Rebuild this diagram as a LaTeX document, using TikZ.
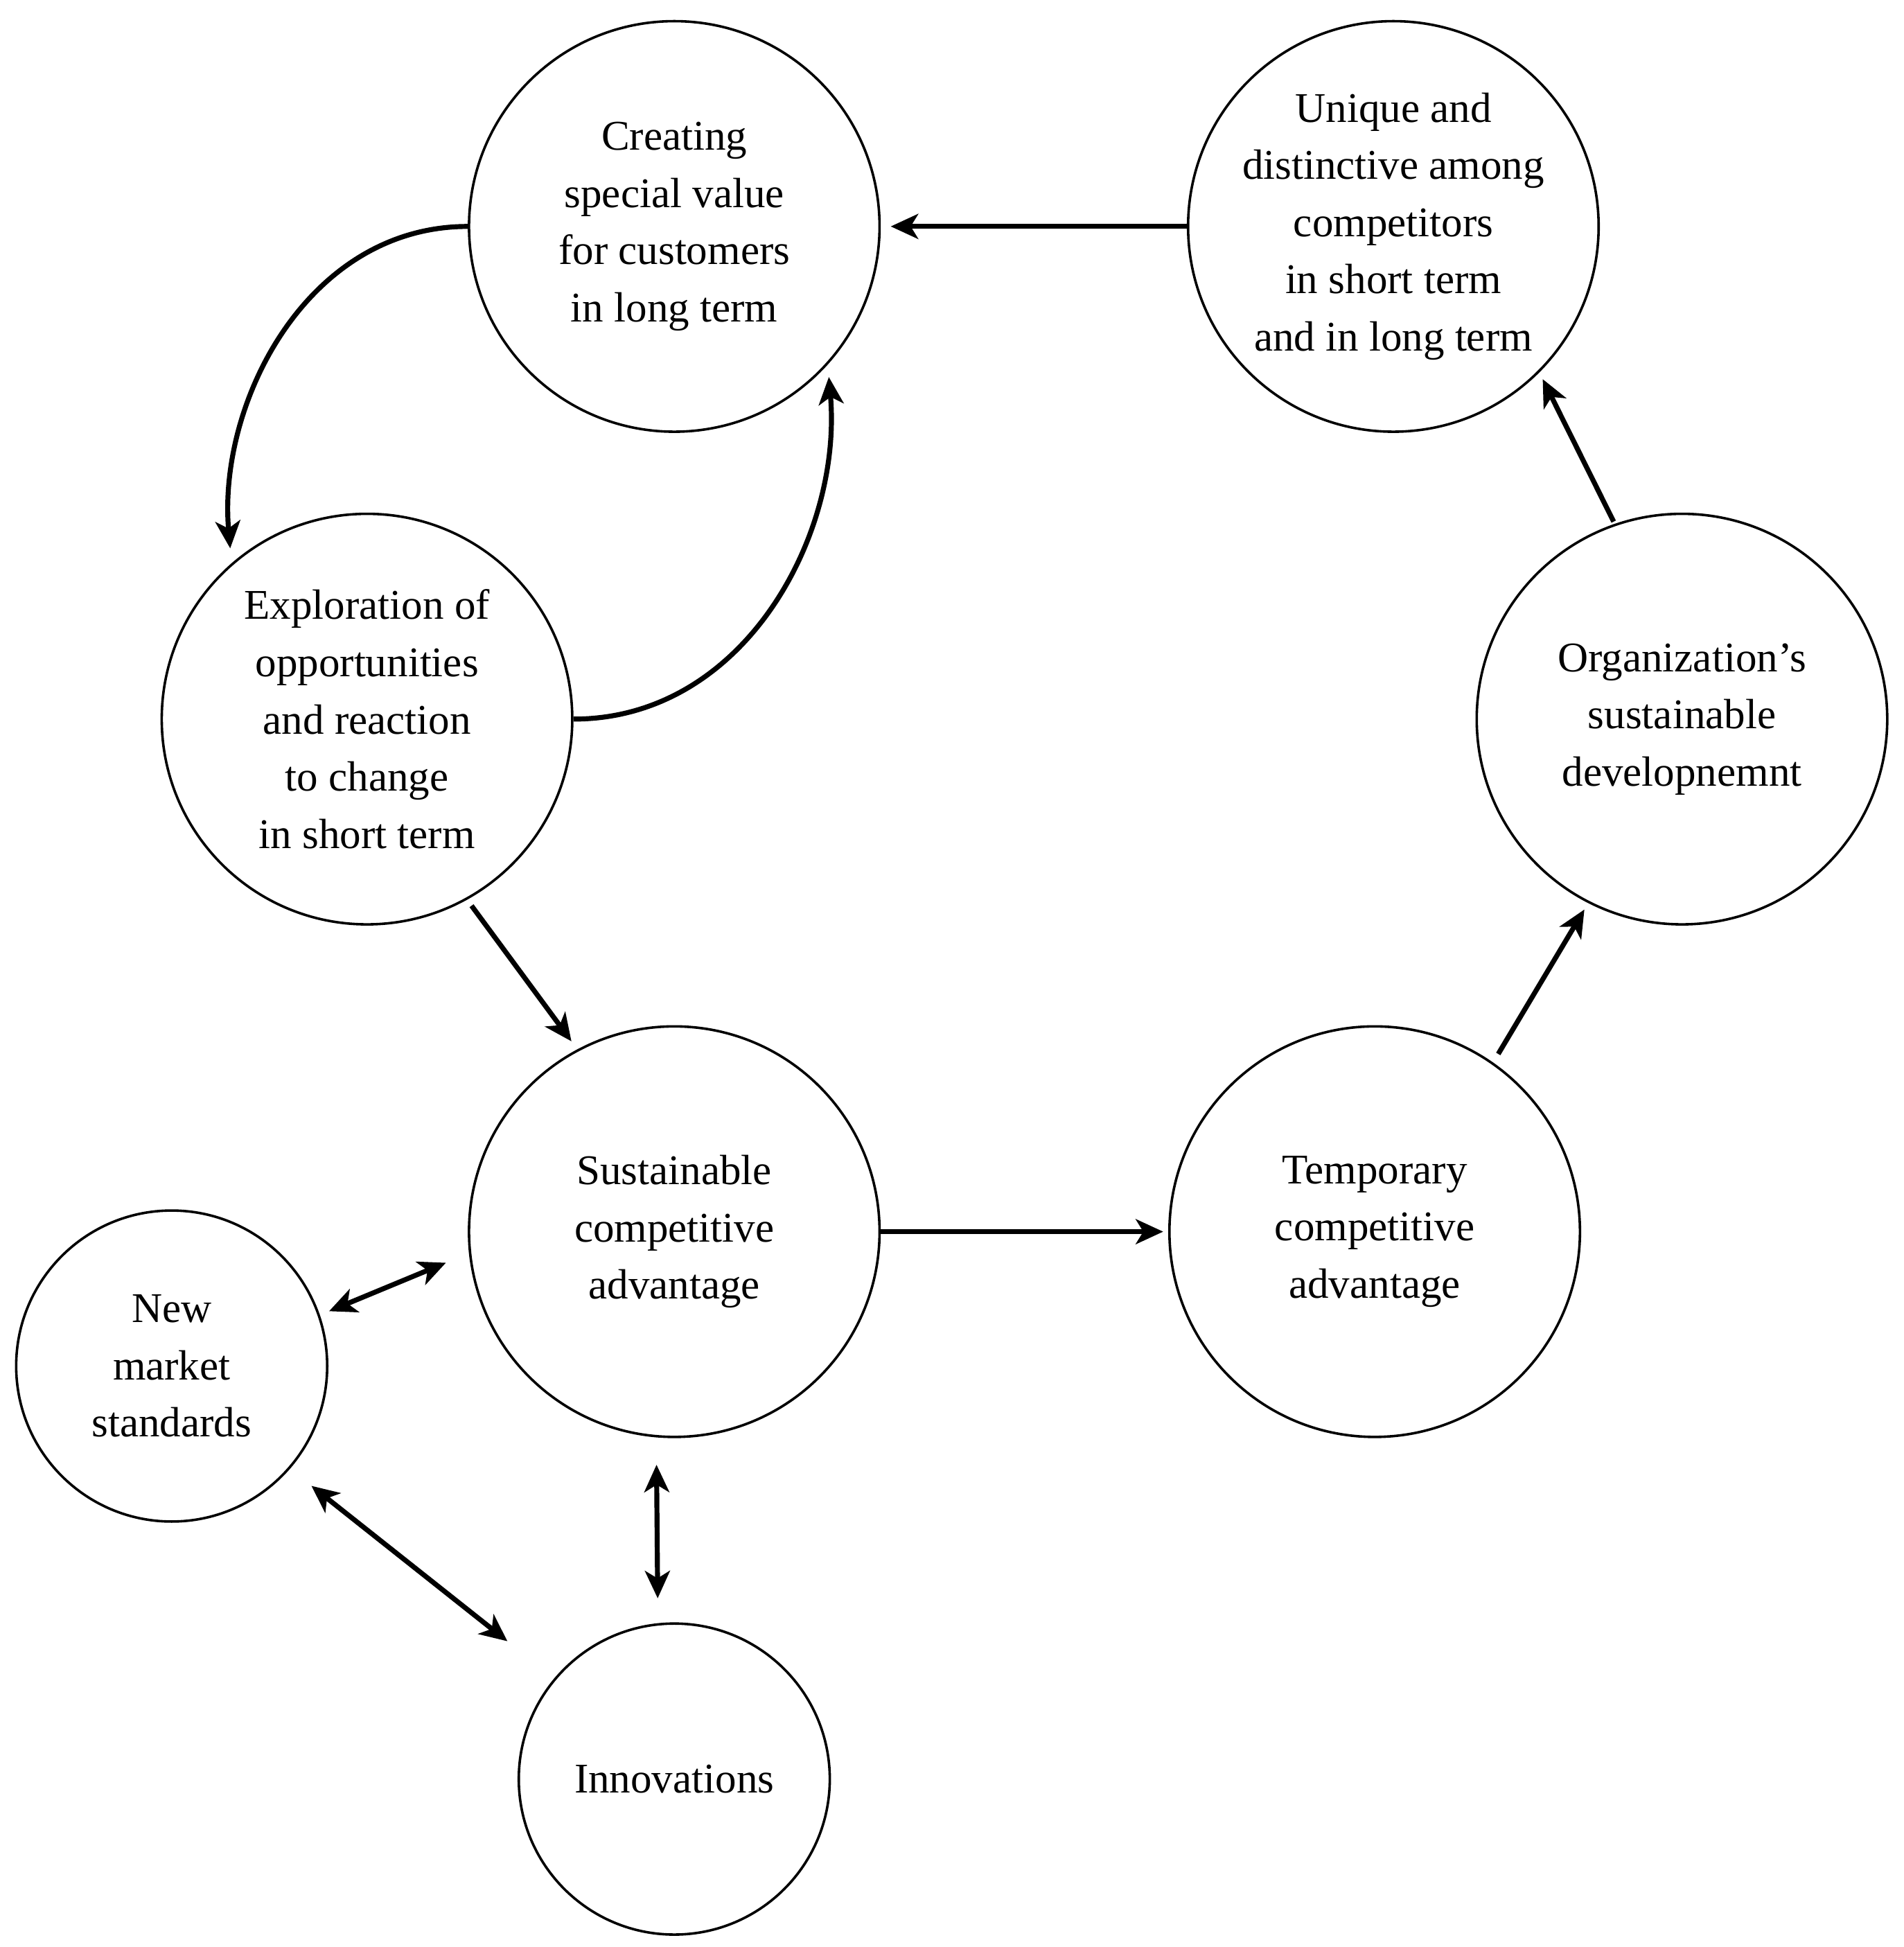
\documentclass[tikz,border=0pt]{standalone}
\usepackage{fontspec}
\setmainfont{Liberation Serif}
\usetikzlibrary{arrows.meta}
\begin{document}
\begin{tikzpicture}[x=0.5pt,y=-0.5pt,
  big/.style={circle,draw,line width=1pt,minimum size=165pt,inner sep=0pt,align=center,font=\fontsize{17}{23}\selectfont},
  small/.style={big,minimum size=125pt},
  arr/.style={line width=2pt,-{Stealth[length=11pt,width=10pt,inset=3pt]}},
  darr/.style={line width=2pt,{Stealth[length=11pt,width=10pt,inset=3pt]}-{Stealth[length=11pt,width=10pt,inset=3pt]}}]
\useasboundingbox (0,0) rectangle (1530,1565);
\node[big] (C) at (542,182) {Creating\\special value\\for customers\\in long term};
\node[big] (U) at (1120,182) {Unique and\\distinctive among\\competitors\\in short term\\and in long term};
\node[big] (E) at (295,578) {Exploration of\\opportunities\\and reaction\\to change\\in short term};
\node[big] (O) at (1352,578) {Organization's\\sustainable\\developnemnt};
\node[big] (S) at (542,990) {Sustainable\\competitive\\advantage};
\node[big] (T) at (1105,990) {Temporary\\competitive\\advantage};
\node[small] (N) at (138,1098) {New\\market\\standards};
\node[small] (I) at (542,1430) {Innovations};
\draw[arr,shorten >=4pt] (U.west) -- (C.east);
\draw[arr,shorten >=6pt] (C.west) to[out=180,in=95] (E.131);
\draw[arr,shorten >=5pt] (E.east) to[out=0,in=-85] (C.-42);
\draw[arr,shorten >=4pt,shorten <=3pt] (E.-61) -- (S.118);
\draw[arr,shorten >=2pt] (S.east) -- (T.west);
\draw[arr,shorten >=3pt,shorten <=4pt] (T.55) -- (O.-117);
\draw[arr,shorten >=3pt,shorten <=1pt] (O.109) -- (U.-45);
\draw[darr,shorten >=10pt,shorten <=4pt] (N.19) -- (S.186);
\draw[darr,shorten >=24pt,shorten <=11pt] (N.-41) -- (I.140);
\draw[darr,shorten >=10pt,shorten <=11pt] (S.-95) -- (I.96);
\end{tikzpicture}
\end{document}
